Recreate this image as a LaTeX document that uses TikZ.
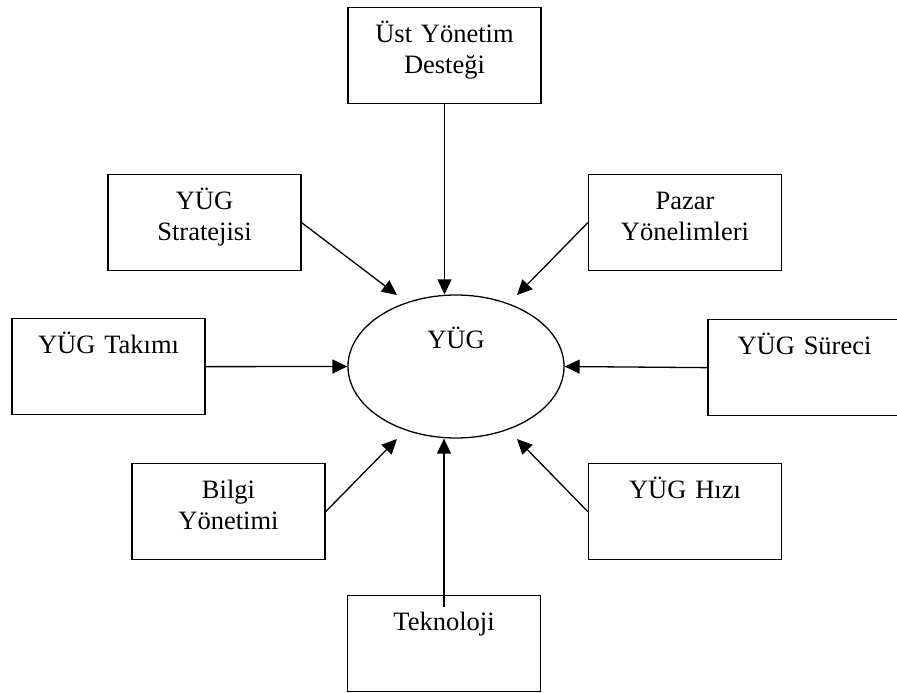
\documentclass[tikz,border=0pt]{standalone}
\usepackage{fontspec}
\setmainfont{Liberation Serif}
\usetikzlibrary{shapes.geometric,arrows.meta,positioning}

\begin{document}
\begin{tikzpicture}[x=1pt,y=-1pt,
        kutu/.style={draw,line width=1.3pt,minimum width=193pt,minimum height=96pt,inner sep=0pt,
            anchor=north,text width=193pt,align=center,text height=35pt,text depth=61pt},
        ok/.style={-{Triangle[length=15pt,width=14pt]},line width=1.3pt}]
    \useasboundingbox (0,0) rectangle (897,693);
    \begin{scope}[every node/.style={font=\fontsize{26.5}{31}\selectfont,color=black}]
        \node[draw,ellipse,line width=1.3pt,minimum width=216pt,minimum height=143pt,inner sep=0pt,
            text height=18pt,text depth=55pt] (yug) at (456,366.5) {YÜG};
        \node[kutu] (ust) at (444.5,7) {Üst Yönetim\\Desteği};
        \node[kutu] (strat) at (204.5,174) {YÜG\\Stratejisi};
        \node[kutu] (pazar) at (685,174) {Pazar\\Yönelimleri};
        \node[kutu] (takim) at (108.5,318) {YÜG Takımı};
        \node[kutu] (surec) at (804.5,319) {YÜG Süreci};
        \node[kutu] (bilgi) at (228.5,463) {Bilgi\\Yönetimi};
        \node[kutu] (hiz) at (685,463) {YÜG Hızı};
        \node[kutu] (tekno) at (444,595) {Teknoloji};
    \end{scope}
    \coordinate (tust) at (ust.south |- yug.north);
    \coordinate (tstrat) at (397,295);
    \coordinate (tpazar) at (517,295);
    \coordinate (tbilgi) at (397,439);
    \coordinate (thiz) at (517,439);
    \coordinate (tekno0) at ([yshift=-12pt]tekno.north);
    \coordinate (ttekno) at (tekno.north |- yug.south);
    \foreach \a/\b in {ust.south/tust,strat.east/tstrat,pazar.west/tpazar,takim.east/yug.west,
            surec.west/yug.east,bilgi.east/tbilgi,hiz.west/thiz,tekno0/ttekno}
        \draw[ok] (\a) -- (\b);
\end{tikzpicture}
\end{document}
